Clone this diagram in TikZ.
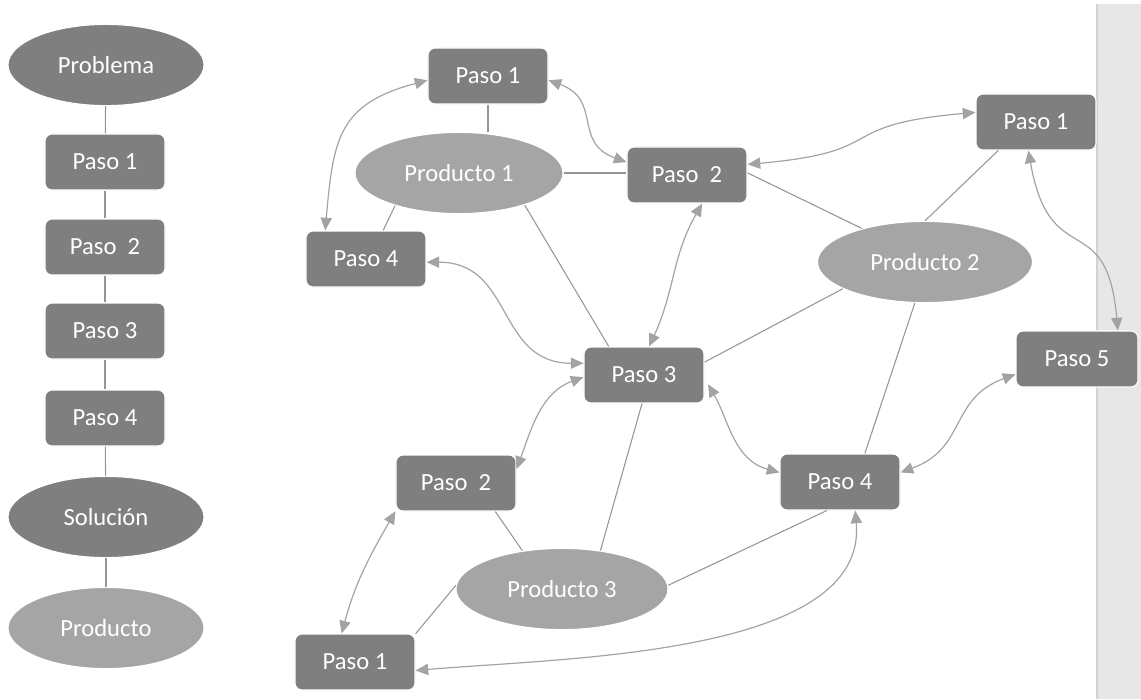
\documentclass[tikz,border=0pt]{standalone}
\usepackage{fontspec}
\setmainfont{Carlito}
\usepackage{tikz}
\usetikzlibrary{arrows.meta,shapes.geometric}
\definecolor{boxgray}{HTML}{7F7F7F}
\definecolor{prodgray}{HTML}{A5A5A5}
\definecolor{linegray}{HTML}{959595}
\definecolor{arrowgray}{HTML}{A3A3A3}
\definecolor{stripgray}{HTML}{E7E7E7}
\definecolor{stripedge}{HTML}{D2D2D2}

\begin{document}
\begin{tikzpicture}[x = 0.025cm, y = -0.025cm,
  every node/.style = {text = white, font = \fontsize{17.5}{20}\selectfont},
  paso/.style = {rectangle, rounded corners = 5pt, fill = boxgray, draw = white, line width = 0.8pt,
    minimum width = 3cm, minimum height = 1.4cm, inner sep = 0pt},
  oval/.style = {ellipse, fill = boxgray, draw = white, line width = 0.8pt,
    minimum width = 4.9cm, minimum height = 2.03cm, inner sep = 0pt},
  prod/.style = {oval, fill = prodgray},
  link/.style = {draw = linegray, line width = 0.75pt},
  both/.style = {draw = arrowgray, line width = 0.85pt,
    {Triangle[length = 9pt, width = 8pt]}-{Triangle[length = 9pt, width = 8pt]}}]
  \useasboundingbox (0, 0) rectangle (1141, 699);
  \fill [stripgray] (1097, 4) rectangle (1141, 699);
  \draw [stripedge, line width = 0.8pt] (1097, 4) -- (1097, 699);

  % left column
  \node [oval] (Prob) at (106, 65) {Problema};
  \node [paso] (S1) at (105, 162) {Paso 1};
  \node [paso] (S2) at (105, 247) {Paso\ \ 2};
  \node [paso] (S3) at (105, 331) {Paso 3};
  \node [paso] (S4) at (105, 418) {Paso 4};
  \node [oval] (Sol) at (106, 517) {Solución};
  \node [prod] (Prod) at (106, 628) {Producto};
  \draw [link] (Prob) -- (S1);
  \draw [link] (S1) -- (S2);
  \draw [link] (S2) -- (S3);
  \draw [link] (S3) -- (S4);
  \draw [link] (S4) -- (Sol);
  \draw [link] (Sol) -- (Prod);

  % right part
  \node [paso] (P1a) at (488, 76) {Paso 1};
  \node [prod, minimum width = 5.2cm] (Pr1) at (459, 173) {Producto 1};
  \node [paso] (P2a) at (687, 175) {Paso\ \ 2};
  \node [paso] (P4a) at (366, 259) {Paso 4};
  \node [paso] (P1b) at (1036, 122) {Paso 1};
  \node [prod, minimum width = 5.375cm] (Pr2) at (925, 262) {Producto 2};
  \node [paso, minimum width = 3.05cm] (P5) at (1077, 359) {Paso 5};
  \node [paso] (P3) at (644, 375) {Paso 3};
  \node [paso] (P2b) at (456, 483) {Paso\ \ 2};
  \node [paso] (P4b) at (840, 482) {Paso 4};
  \node [prod, minimum width = 5.3cm] (Pr3) at (562, 589) {Producto 3};
  \node [paso] (P1c) at (355, 662) {Paso 1};

  \draw [link] (P1a.south) -- (P1a.south |- Pr1.north);
  \draw [link] (Pr1.207) -- (P4a.59);
  \draw [link] (Pr1.east) -- (Pr1.east -| P2a.west);
  \draw [link] (Pr1.-26) -- (P3.141);
  \draw [link] (P2a.2) -- (Pr2.152);
  \draw [link] (P1b.217) -- (Pr2.90);
  \draw [link] (Pr2.198) -- (P3.12);
  \draw [link] (Pr2.256) -- (P4b.49);
  \draw [link] (P3.-94) -- (Pr3.45);
  \draw [link] (P2b.-36) -- (Pr3.136);
  \draw [link] (Pr3.178) -- (P1c.25);
  \draw [link] (Pr3.2) -- (P4b.-115);

  \draw [both] (P1a.184) to [out = 195, in = 85, looseness = 1.3] (P4a.145);
  \draw [both] (P1a.-4) to [out = -20, in = 160, looseness = 1.3] (P2a.168);
  \draw [both] (P2a.10) to [out = 5, in = 185, looseness = 1.6] (P1b.171);
  \draw [both] (P1b.-105) to [out = -80, in = 95, looseness = 1.6] (P5.35);
  \draw [both] (P4a.-3) to [out = 0, in = 180, looseness = 1.2] (P3.169);
  \draw [both] (P2a.-62) to [out = -120, in = 65] (P3.80);
  \draw [both] (P3.182) to [out = 200, in = 70] (P2b.13);
  \draw [both, shorten <= 5pt] (P3.-3) to [out = -60, in = 165] (P4b.171);
  \draw [both] (P5.194) to [out = 200, in = 20, looseness = 1.2] (P4b.9);
  \draw [both] (P2b.205) to [out = 240, in = 75] (P1c.115);
  \draw [both] (P4b.-62) to [out = -85, in = 5, looseness = 0.8] (P1c.-8);
\end{tikzpicture}
\end{document}
